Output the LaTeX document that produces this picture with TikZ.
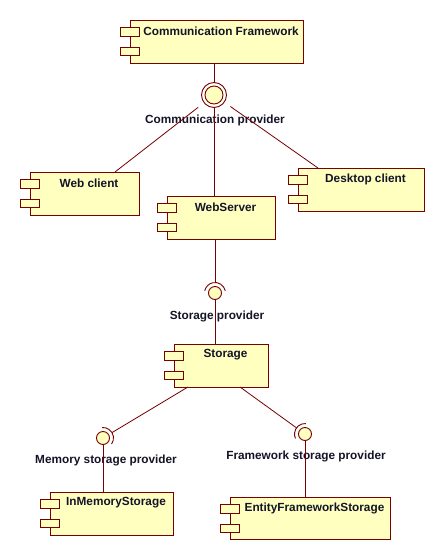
\documentclass[tikz,border=0pt]{standalone}
\usepackage{fontspec}
\setmainfont{Liberation Sans}
\definecolor{stroke}{RGB}{120,0,0}
\definecolor{fillc}{RGB}{255,255,192}
\definecolor{txt}{RGB}{20,20,40}
\newcommand\umlcomp[6]{%
  \node[compbox, minimum width={#4-#2}, minimum height={#5-#3}] (#1) at (#2,#3) {};
  \draw[tab] ([shift={(-10,7.5)}]#1.north west) rectangle +(19,8.5);
  \draw[tab] ([shift={(-10,27)}]#1.north west) rectangle +(19,8.5);
  \node[lbl] (#1-t) at ({(#2+9+#4)/2},{#3+11}) {#6};
}
\begin{document}
\begin{tikzpicture}[x=1pt,y=-1pt,
  compbox/.style={draw=stroke, fill=fillc, line width=0.9pt, rectangle, anchor=north west, inner sep=0, outer sep=0},
  tab/.style={draw=stroke, fill=fillc, line width=0.9pt},
  lbl/.style={font=\bfseries\fontsize{11.8}{12}\selectfont, text=txt, inner sep=0},
  conn/.style={draw=stroke, line width=0.8pt},
  ball/.style={circle, draw=stroke, fill=fillc, line width=0.9pt, inner sep=0, outer sep=0},
  ghost/.style={circle, inner sep=0, outer sep=0},
  socket/.style={draw=stroke, line width=0.9pt},
]
\fill[white] (0,0) rectangle (445,560);
\useasboundingbox (0,0) rectangle (445,560);

% components
\umlcomp{cf}{130}{20}{303}{63}{Communication Framework}
\umlcomp{web}{30}{172}{139}{215}{Web client}
\umlcomp{ws}{167}{196}{275}{239}{WebServer}
\umlcomp{desk}{298}{168}{424}{211}{Desktop client}
\umlcomp{st}{174}{344}{268}{387}{Storage}
\umlcomp{inm}{50}{492}{173}{535}{InMemoryStorage}
\umlcomp{ef}{230}{497}{390}{539}{EntityFrameworkStorage}

% interface: communication provider
\node[ghost, minimum size=25] (cpr) at (214,95) {};
\node[ghost, minimum size=40] (cpz) at (214,95) {};
\draw[socket] (cpr) circle[radius=12.5];
\node[ball, minimum size=18] (cpb) at (214,95) {};
\node[lbl] (cpl) at (215,120) {Communication provider};

% interface: storage provider
\node[ghost, minimum size=21] (spa) at (215,293) {};
\draw[socket] ([shift={(-12:10.5)}]spa.center) arc[start angle=-12, end angle=-168, radius=10.5];
\node[ball, minimum size=13] (spb) at (215,293) {};
\node[lbl] (spl) at (217,316) {Storage provider};

% interface: memory storage provider
\node[ghost, minimum size=21] (mpa) at (103,438) {};
\draw[socket] ([shift={(35:10.5)}]mpa.center) arc[start angle=35, end angle=-95, radius=10.5];
\node[ball, minimum size=13] (mpb) at (103,438) {};
\node[lbl] (mpl) at (106,460) {Memory storage provider};

% interface: framework storage provider
\node[ghost, minimum size=21] (fpa) at (305,434) {};
\draw[socket] ([shift={(-85:10.5)}]fpa.center) arc[start angle=-85, end angle=-205, radius=10.5];
\node[ball, minimum size=13] (fpb) at (305,434) {};
\node[lbl] (fpl) at (306,456) {Framework storage provider};

% anchor points on components
\coordinate (webA) at ([xshift=85]web.north west);
\coordinate (deskA) at ([xshift=20]desk.north west);
\coordinate (stL) at ([xshift=14]st.south west);
\coordinate (stR) at ([xshift=66]st.south west);

% connectors
\draw[conn] (cpr.north |- cf.south) -- (cpr.north);
\draw[conn] (cpz) -- (webA);
\draw[conn] (cpr.south) -- (cpr.south |- ws.north);
\draw[conn] (cpz) -- (deskA);
\draw[conn] (spa.north |- ws.south) -- (spa.north);
\draw[conn] (spb.south) -- (spb.south |- st.north);
\draw[conn] (stL) -- (mpa);
\draw[conn] (mpb.south) -- (mpb.south |- inm.north);
\draw[conn] (stR) -- (fpa);
\draw[conn] (fpb.south) -- (fpb.south |- ef.north);
\end{tikzpicture}
\end{document}
